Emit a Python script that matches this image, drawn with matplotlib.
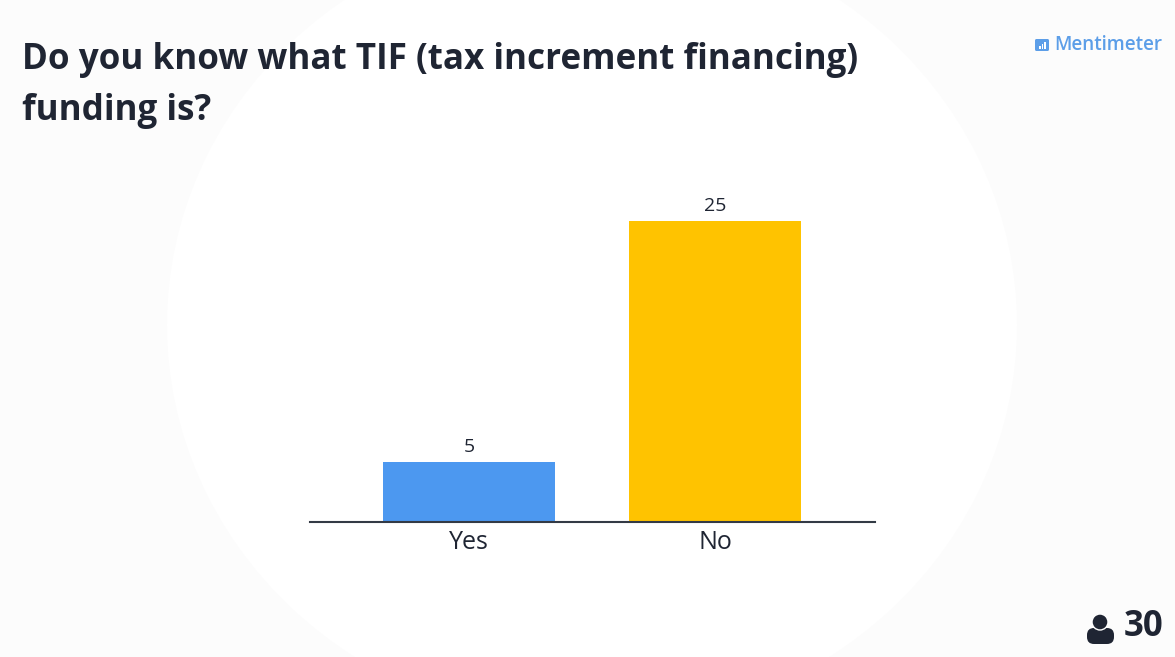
import matplotlib.pyplot as plt
from matplotlib.patches import Ellipse, FancyBboxPatch, Rectangle

plt.rcParams['font.family'] = ['Open Sans', 'DejaVu Sans']

categories = ['Yes', 'No']
votes = [5, 25]
bar_colors = ['#4c98f0', '#ffc300']
respondents = 30

W, H = 1175, 657
fig = plt.figure(figsize=(W / 100, H / 100), dpi=100, facecolor='#fcfcfc')

# soft white glow behind the chart
bg = fig.add_axes([0, 0, 1, 1])
bg.set_xlim(0, W)
bg.set_ylim(H, 0)
bg.axis('off')
bg.add_patch(Ellipse((592, 325), 850, 800, color='white', lw=0))

# title and branding
bg.text(22, 60, 'Do you know what TIF (tax increment financing)', fontsize=25.2,
        fontweight='bold', color='#1f2533', va='center', ha='left')
bg.text(22, 111, 'funding is?', fontsize=25.2, fontweight='bold', color='#1f2533',
        va='center', ha='left')
bg.add_patch(FancyBboxPatch((1035, 39), 14, 12, boxstyle='round,pad=0,rounding_size=1.5',
                            color='#5c9ee8', lw=0))
for left, top in [(1039, 46), (1041.5, 44), (1044, 42)]:
    bg.add_patch(Rectangle((left, top), 1.5, 49 - top, color='white', lw=0))
bg.text(1054, 45, 'Mentimeter', fontsize=13.6, fontweight='semibold', color='#5c9ee8',
        va='center', ha='left')

# respondent count with a small person icon
bg.add_patch(FancyBboxPatch((1087, 628), 27, 16, boxstyle='round,pad=0,rounding_size=7',
                            color='#1f2533', lw=0))
bg.add_patch(Ellipse((1100, 622), 16, 16, facecolor='#1f2533', edgecolor='white', lw=1))
bg.text(1124, 627, str(respondents), fontsize=25, fontweight='bold', color='#1f2533',
        va='center', ha='left')

# bar chart
ax = fig.add_axes([310 / W, 1 - 522 / H, 565 / W, 322 / H])
ax.patch.set_alpha(0)
positions = [0, 1]
ax.bar(positions, votes, width=0.7, color=bar_colors)
for x, v in zip(positions, votes):
    ax.annotate(str(v), (x, v), xytext=(0, 4), textcoords='offset points', ha='center',
                va='bottom', fontsize=14, fontweight='medium', color='#1f2533')
ax.set_xlim(-0.646, 1.65)
ax.set_ylim(0, 25 / 301 * 322)
ax.set_xticks(positions, categories, fontsize=18, color='#1f2533')
ax.tick_params(axis='x', length=0, pad=6)
ax.set_yticks([])
for side in ['top', 'left', 'right']:
    ax.spines[side].set_visible(False)
ax.spines['bottom'].set_color('#333a45')
ax.spines['bottom'].set_linewidth(1.5)

fig.savefig('out.png', dpi=100)
